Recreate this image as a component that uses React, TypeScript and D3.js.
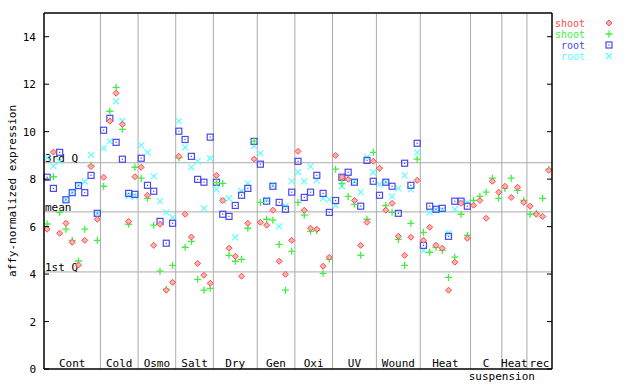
import React from "react";
import * as d3 from "d3";

// conditions and number of samples in each
const groups = ["Cont", "Cold", "Osmo", "Salt", "Dry", "Gen", "Oxi", "UV", "Wound", "Heat", "C", "Heat", "rec"];
const groupSizes = [9, 6, 6, 6, 7, 6, 6, 7, 7, 8, 5, 4, 4];

const shootRed = [
  5.89, 9.14, 5.72, 6.14, 5.34, 4.38, 5.42, 8.53, 6.31,
  8.08, 10.44, 11.62, 10.31, 6.22, 8.1,
  8.5, 7.32, 5.21, 6.1, 3.32, 3.65,
  8.96, 6.52, 5.56, 4.45, 3.95, 3.61,
  8.16, 7.1, 5.09, 4.75, 3.91, 6.14, 8.84,
  6.18, 6.06, 6.69, 4.54, 3.99, 5.42,
  9.17, 6.69, 5.93, 5.89, 4.33, 4.71,
  9.0, 8.08, 7.99, 7.1, 5.21, 6.18, 8.75,
  8.46, 6.69, 6.98, 5.59, 4.79, 5.55, 7.95,
  5.42, 5.97, 5.21, 5.09, 3.32, 4.5, 6.98, 5.51,
  6.9, 7.1, 6.35, 7.91, 7.45,
  7.7, 7.23, 7.66, 7.02,
  6.86, 6.52, 6.43, 8.37,
];

const shootGreen = [
  6.11, 8.1, 6.6, 5.89, 5.42, 4.55, 5.89, 8.58, 5.42,
  7.7, 10.86, 11.87, 10.1, 6.1, 8.5,
  8.04, 7.19, 6.06, 4.12, 3.36, 4.37,
  8.9, 5.13, 5.38, 3.78, 3.32, 3.4,
  7.85, 7.82, 4.79, 4.54, 4.62, 5.93, 9.6,
  7.02, 6.31, 6.27, 5.25, 3.32, 4.96,
  7.02, 6.48, 5.8, 5.84, 4.03, 4.62,
  8.42, 7.82, 7.27, 6.94, 4.79, 6.31, 9.13,
  8.46, 6.89, 6.6, 5.46, 4.37, 6.14, 8.84,
  5.76, 4.92, 5.13, 5.0, 3.86, 4.71, 6.52, 5.63,
  7.1, 7.27, 7.45, 8.04, 7.19,
  7.61, 8.04, 7.53, 7.1,
  6.52, 6.56, 7.19, 8.42,
];

const rootBlue = [
  8.08, 7.61, 9.13, 7.13, 7.43, 7.73, 7.43, 8.16, 6.56,
  10.06, 10.56, 9.55, 8.84, 7.4, 7.36,
  8.88, 7.74, 7.49, 6.22, 5.3, 6.14,
  10.02, 9.67, 8.96, 7.99, 7.87, 9.77,
  7.87, 6.52, 6.43, 6.89, 7.32, 7.61, 9.59,
  8.63, 7.07, 7.7, 7.02, 6.73, 7.45,
  8.75, 7.23, 7.45, 8.16, 7.4, 6.6,
  7.1, 8.08, 8.29, 7.87, 6.86, 8.79, 7.91,
  7.32, 7.87, 7.7, 6.56, 8.67, 7.74, 9.51,
  5.21, 6.86, 6.73, 6.77, 5.59, 7.07, 7.07, 6.86,
];

const rootCyan = [
  8.9, 8.55, 8.75, 7.15, 7.45, 7.75, 7.9, 9.02, 6.56,
  9.3, 9.59, 11.28, 10.45, 7.3, 7.26,
  9.42, 9.13, 8.12, 7.07, 6.6, 6.39,
  10.44, 9.34, 8.5, 8.75, 6.77, 8.88,
  7.57, 7.1, 7.19, 5.55, 7.49, 7.82, 9.4,
  9.09, 7.15, 7.74, 6.01, 6.86, 7.91,
  8.29, 7.91, 8.54, 7.95, 7.19, 7.15,
  6.89, 7.7, 8.08, 7.91, 7.45, 8.92, 8.29,
  7.78, 7.87, 7.27, 7.61, 8.16, 7.57, 9.13,
  5.0, 6.6, 6.73, 6.69, 5.72, 6.73, 7.02, 7.02,
];

const quartiles = [
  { label: "3rd Q", value: 8.69 },
  { label: "mean", value: 6.62 },
  { label: "1st Q", value: 4.09 },
];
const yTicks = [0, 2, 4, 6, 8, 10, 12, 14];

const RED = "#ff4a4a";
const GREEN = "#44ee44";
const BLUE = "#4848ee";
const CYAN = "#55ffff";
const GRID = "#aaaaaa";
const FONT = "'DejaVu Sans Mono', monospace";

const Diamond = ({ x, y }: { x: number; y: number }) => (
  <path d={`M${x},${y - 3}L${x + 3},${y}L${x},${y + 3}L${x - 3},${y}Z`} fill="#ffb0b0" stroke={RED} strokeWidth={1} />
);
const Plus = ({ x, y }: { x: number; y: number }) => (
  <path d={`M${x - 3.5},${y}H${x + 3.5}M${x},${y - 3.5}V${y + 3.5}`} stroke={GREEN} strokeWidth={1.3} />
);
const Square = ({ x, y }: { x: number; y: number }) => (
  <g>
    <rect x={x - 3} y={y - 3} width={6} height={6} fill="none" stroke={BLUE} strokeWidth={1.2} />
    <rect x={x - 0.6} y={y - 0.6} width={1.2} height={1.2} fill={BLUE} />
  </g>
);
const Cross = ({ x, y }: { x: number; y: number }) => (
  <path d={`M${x - 3},${y - 3}L${x + 3},${y + 3}M${x - 3},${y + 3}L${x + 3},${y - 3}`} stroke={CYAN} strokeWidth={1.1} />
);

export default function App() {
  const left = 44, right = 552, top = 13, bottom = 369;
  const nSamples = d3.sum(groupSizes);
  const x = d3.scaleLinear().domain([0, nSamples]).range([left, right]);
  const y = d3.scaleLinear().domain([0, 15]).range([bottom, top]);

  const starts = groupSizes.map((_, i) => d3.sum(groupSizes.slice(0, i)));
  const cx = (i: number) => x(i + 0.5);

  const series = [
    { data: rootCyan, M: Cross },
    { data: rootBlue, M: Square },
    { data: shootGreen, M: Plus },
    { data: shootRed, M: Diamond },
  ];

  const legend = [
    { label: "shoot", color: RED, M: Diamond },
    { label: "shoot", color: GREEN, M: Plus },
    { label: "root", color: BLUE, M: Square },
    { label: "root", color: CYAN, M: Cross },
  ];

  return (
    <svg width={640} height={384} style={{ position: "absolute", left: 0, top: 0, background: "#fff" }} fontFamily={FONT} fontSize={11}>
      {/* group separators */}
      {starts.slice(1).map((s, i) => (
        <line key={"v" + i} x1={x(s)} x2={x(s)} y1={top} y2={bottom} stroke={GRID} strokeWidth={1} />
      ))}
      {/* quartile lines */}
      {quartiles.map((q) => (
        <g key={q.label}>
          <line x1={left} x2={right} y1={y(q.value)} y2={y(q.value)} stroke={GRID} strokeWidth={1} />
          <text x={left + 1} y={y(q.value) - 1} fill="#000">{q.label}</text>
        </g>
      ))}
      {/* points */}
      {series.map((s, si) => (
        <g key={"s" + si}>
          {s.data.map((v, i) => (v == null ? null : <s.M key={i} x={cx(i)} y={y(v)} />))}
        </g>
      ))}
      {/* frame */}
      <line x1={left} x2={right} y1={top} y2={top} stroke="#000" strokeWidth={1.5} />
      <line x1={left} x2={left} y1={top} y2={bottom} stroke="#000" strokeWidth={1.5} />
      <line x1={right} x2={right} y1={top} y2={bottom} stroke="#000" strokeWidth={1.5} />
      <line x1={left} x2={right} y1={bottom} y2={bottom} stroke="#000" strokeWidth={1.5} />
      {yTicks.map((t) => (
        <g key={"t" + t}>
          <line x1={left} x2={left + 5} y1={y(t)} y2={y(t)} stroke="#000" />
          <line x1={right - 5} x2={right} y1={y(t)} y2={y(t)} stroke="#000" />
          <text x={36} y={y(t) + 4} textAnchor="end" fill="#000">{t}</text>
        </g>
      ))}
      {/* group labels */}
      {groups.map((g, i) => (
        <text key={"g" + i} x={x(starts[i] + groupSizes[i] / 2)} y={367} textAnchor="middle" fill="#000">{g}</text>
      ))}
      <text x={x(starts[11])} y={380} textAnchor="middle" fill="#000">suspension</text>
      <text transform={`translate(16,191) rotate(-90)`} textAnchor="middle" fill="#000">affy-normalized expression</text>
      {/* legend */}
      {legend.map((l, i) => (
        <g key={"l" + i}>
          <text x={585} y={27 + i * 11} textAnchor="end" fill={l.color} fontSize={10}>{l.label}</text>
          <l.M x={609} y={23 + i * 11} />
        </g>
      ))}
    </svg>
  );
}
